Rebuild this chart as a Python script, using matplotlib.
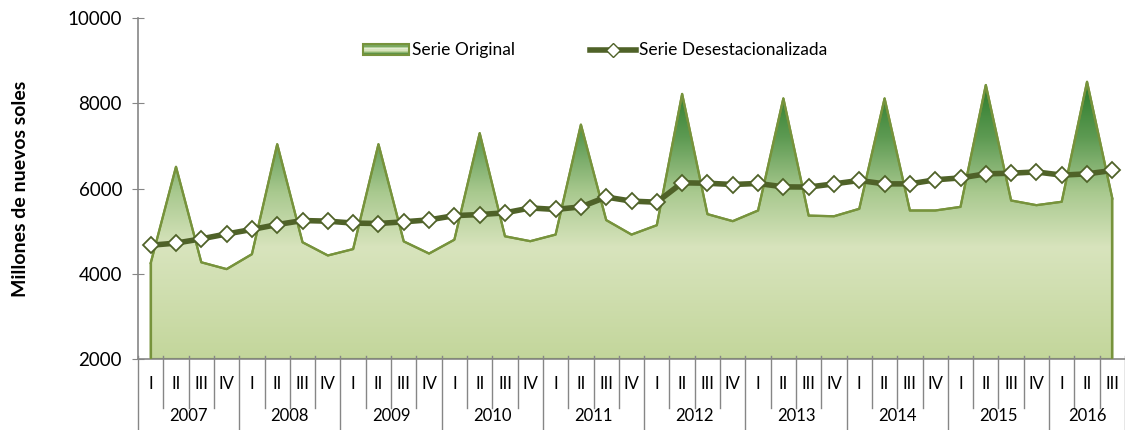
import numpy as np
import matplotlib.pyplot as plt
from matplotlib.colors import LinearSegmentedColormap
from matplotlib.lines import Line2D
from matplotlib.patches import Patch, Rectangle
from matplotlib.legend_handler import HandlerBase

plt.rcParams['font.family'] = ['Lato', 'DejaVu Sans']

# data (millones de nuevos soles), quarters 2007 I .. 2016 III
years = ['2007', '2008', '2009', '2010', '2011', '2012', '2013', '2014', '2015', '2016']
quarters = ['I', 'II', 'III', 'IV']
original = [4250, 6510, 4270, 4110,
            4460, 7040, 4740, 4430,
            4580, 7040, 4760, 4475,
            4800, 7300, 4880, 4765,
            4920, 7500, 5260, 4920,
            5140, 8220, 5400, 5235,
            5485, 8115, 5365, 5350,
            5525, 8115, 5485, 5485,
            5570, 8430, 5720, 5610,
            5690, 8505, 5765]
desest = [4670, 4720, 4820, 4935,
          5040, 5155, 5250, 5235,
          5190, 5180, 5220, 5265,
          5365, 5390, 5430, 5545,
          5510, 5570, 5800, 5705,
          5680, 6135, 6125, 6095,
          6120, 6040, 6035, 6110,
          6190, 6110, 6110, 6205,
          6250, 6345, 6360, 6390,
          6315, 6345, 6425]

n = len(original)
x = np.arange(n)
qlabels = [quarters[i % 4] for i in range(n)]

cmap = LinearSegmentedColormap.from_list('g', [(0.0, '#c3d69b'), (0.4, '#d8e4bd'),
                                               (0.6, '#a9c98f'), (0.8, '#5d9a52'), (1.0, '#2a7a2a')])


class GradientHandler(HandlerBase):
    # legend box with horizontal bands like the area gradient
    def create_artists(self, legend, orig_handle, xdescent, ydescent, width, height, fontsize, trans):
        arts = []
        k = 8
        cols = ['#4f8a3a', '#7aa860', '#b5d19a', '#e2ecd2', '#d8e4bd', '#b9d197', '#8db570', '#5f9448']
        for j in range(k):
            r = Rectangle((-xdescent, -ydescent + height * j / k), width, height / k + 0.3,
                          facecolor=cols[k - 1 - j], edgecolor='none', transform=trans)
            arts.append(r)
        arts.append(Rectangle((-xdescent, -ydescent), width, height, facecolor='none',
                              edgecolor='#77933c', lw=1.5, transform=trans))
        return arts


fig = plt.figure(figsize=(11.25, 4.3), dpi=100)
ax = fig.add_axes([0.1227, 0.165, 0.8773, 0.793])

# gradient area
poly = ax.fill_between(x, 2000, original, facecolor='none', edgecolor='#77933c', lw=1.6, zorder=2)
grad = np.linspace(0, 1, 256).reshape(-1, 1)
im = ax.imshow(grad, cmap=cmap, origin='lower', aspect='auto',
               extent=[-0.5, n - 0.5, 2000, max(original)], zorder=1)
im.set_clip_path(poly.get_paths()[0], transform=ax.transData)
ax.plot(x, original, color='#77933c', lw=1.6, zorder=3)
ax.plot([0, 0], [2000, original[0]], color='#77933c', lw=1.6, zorder=3)
ax.plot([n - 1, n - 1], [2000, original[-1]], color='#77933c', lw=1.6, zorder=3)

ax.plot(x, desest, color='#4f6228', lw=4, marker='D', ms=8, mfc='white',
        mec='#4f6228', mew=1.3, zorder=4)

ax.set_xlim(-0.5, n - 0.5)
ax.set_ylim(2000, 10000)
ax.set_yticks([2000, 4000, 6000, 8000, 10000])
ax.tick_params(axis='y', direction='inout', length=9, color='#868686', labelsize=13.5, pad=7)
for s in ['top', 'right']:
    ax.spines[s].set_visible(False)
for s in ['left', 'bottom']:
    ax.spines[s].set_color('#868686')
    ax.spines[s].set_linewidth(1.2)

# multi-level category axis
ax.set_xticks([])
tr = ax.get_xaxis_transform()
for i in range(n + 1):
    xb = i - 0.5
    if i % 4 == 0 or i == n:
        ax.plot([xb, xb], [0.01, -0.23], transform=tr, color='#868686', lw=1, clip_on=False)
    else:
        ax.plot([xb, xb], [0.01, -0.143], transform=tr, color='#868686', lw=1, clip_on=False)
for i in range(n):
    ax.text(x[i], -0.072, qlabels[i], transform=tr, ha='center', va='center', fontsize=12)
for k, yr in enumerate(years):
    start = 4 * k
    end = min(4 * k + 4, n)
    ax.text((start + end - 1) / 2, -0.166, yr, transform=tr, ha='center', va='center', fontsize=12)

ax.set_ylabel('Millones de nuevos soles', fontsize=14, fontweight='bold', labelpad=28)

handles = [Patch(facecolor='#b5cf95', edgecolor='#77933c', lw=1.5),
           Line2D([0], [0], color='#4f6228', lw=4, marker='D', ms=7, mfc='white', mec='#4f6228')]
ax.legend(handles, ['Serie Original', 'Serie Desestacionalizada'], loc='center',
          bbox_to_anchor=(0.463, 0.905), ncol=2, frameon=False, fontsize=12.5,
          columnspacing=4.3, handlelength=2.65, handletextpad=0.2, handleheight=0.6,
          handler_map={Patch: GradientHandler()})

fig.savefig('out.png', dpi=100)
